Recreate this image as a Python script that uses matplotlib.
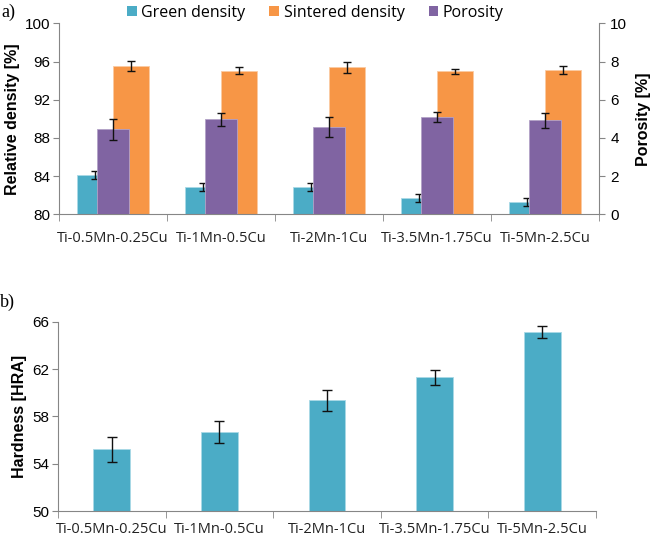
import matplotlib
matplotlib.use("Agg")
import matplotlib.pyplot as plt
import numpy as np
from matplotlib.patches import Patch

alloys = ["Ti-0.5Mn-0.25Cu", "Ti-1Mn-0.5Cu", "Ti-2Mn-1Cu", "Ti-3.5Mn-1.75Cu", "Ti-5Mn-2.5Cu"]

green_density = [84.1, 82.85, 82.85, 81.7, 81.3]
green_err = [0.4, 0.42, 0.4, 0.44, 0.44]
sintered_density = [95.55, 95.05, 95.4, 94.98, 95.12]
sintered_err = [0.5, 0.33, 0.55, 0.25, 0.38]
porosity = [4.45, 4.97, 4.57, 5.08, 4.92]
porosity_err = [0.54, 0.32, 0.53, 0.26, 0.41]

hardness = [55.2, 56.65, 59.35, 61.3, 65.1]
hardness_err = [1.04, 0.94, 0.86, 0.61, 0.52]

C_GREEN = "#4BACC6"
C_ORANGE = "#F79646"
C_PURPLE = "#8064A2"
C_AXIS = "#868686"

NUM_FONT = "Liberation Sans"
CAT_FONT = "Open Sans"

x = np.arange(len(alloys))


def style_x(ax, pad):
    ax.set_xlim(-0.5, len(alloys) - 0.5)
    ax.set_xticks(x)
    ax.set_xticklabels(alloys, fontsize=10.5, family=CAT_FONT, color="#222222")
    ax.set_xticks(np.arange(-0.5, len(alloys)), minor=True)
    ax.tick_params(axis="x", which="major", length=0, pad=pad)
    ax.tick_params(axis="x", which="minor", length=5, color=C_AXIS, direction="out")
    for s in ["top", "right"]:
        ax.spines[s].set_visible(False)
    for s in ["left", "bottom"]:
        ax.spines[s].set_color(C_AXIS)


fig = plt.figure(figsize=(6.53, 5.40), dpi=100)

# --- a) densities + porosity
ax1 = fig.add_axes([0.0904, 0.6031, 0.827, 0.3537])
w = 0.335
ax1.bar(x - w / 2, [v - 80 for v in green_density], w, bottom=80, color=C_GREEN,
        edgecolor="#a9d9e6", linewidth=0.6, zorder=2)
ax1.bar(x + w / 2, [v - 80 for v in sintered_density], w, bottom=80, color=C_ORANGE,
        edgecolor="#fbcaa2", linewidth=0.6, zorder=2)
ax1.errorbar(x - w / 2, green_density, yerr=green_err, fmt="none", ecolor="#111111",
             elinewidth=1, capsize=3, capthick=1, zorder=3)
ax1.errorbar(x + w / 2, sintered_density, yerr=sintered_err, fmt="none", ecolor="#111111",
             elinewidth=1, capsize=3, capthick=1, zorder=3)
ax1.set_ylim(80, 100)
ax1.set_yticks(np.arange(80, 101, 4))
ax1.set_ylabel("Relative density [%]", fontsize=11.5, fontweight="bold", family=NUM_FONT, labelpad=4)
style_x(ax1, 12)
ax1.tick_params(axis="y", length=4, color=C_AXIS, labelsize=11, pad=2)
for t in ax1.get_yticklabels():
    t.set_family(NUM_FONT)

ax2 = ax1.twinx()
ax2.bar(x, porosity, 0.29, color=C_PURPLE, edgecolor="#b3a2c7", linewidth=0.6, zorder=2)
ax2.errorbar(x, porosity, yerr=porosity_err, fmt="none", ecolor="#111111",
             elinewidth=1, capsize=3, capthick=1, zorder=3)
ax2.set_ylim(0, 10)
ax2.set_yticks(np.arange(0, 11, 2))
ax2.set_ylabel("Porosity [%]", fontsize=11.5, fontweight="bold", family=NUM_FONT, labelpad=6)
for s in ["top", "left", "bottom"]:
    ax2.spines[s].set_visible(False)
ax2.spines["right"].set_color(C_AXIS)
ax2.tick_params(axis="y", length=4, color=C_AXIS, labelsize=11, pad=4)
for t in ax2.get_yticklabels():
    t.set_family(NUM_FONT)

handles = [Patch(facecolor=C_GREEN), Patch(facecolor=C_ORANGE), Patch(facecolor=C_PURPLE)]
fig.legend(handles, ["Green density", "Sintered density", "Porosity"], loc="center",
           bbox_to_anchor=(0.483, 0.976), ncol=3, frameon=False, handlelength=0.6,
           handleheight=0.6, handletextpad=0.3, columnspacing=1.5,
           prop={"family": CAT_FONT, "size": 11.5})

fig.text(0.002, 0.978, "a)", fontsize=13, family="Liberation Serif", va="center")

# --- b) hardness
ax3 = fig.add_axes([0.0888, 0.0537, 0.824, 0.3506])
ax3.bar(x, [v - 50 for v in hardness], 0.34, bottom=50, color=C_GREEN,
        edgecolor="#a9d9e6", linewidth=0.6, zorder=2)
ax3.errorbar(x, hardness, yerr=hardness_err, fmt="none", ecolor="#111111",
             elinewidth=1, capsize=3.5, capthick=1, zorder=3)
ax3.set_ylim(50, 66)
ax3.set_yticks(np.arange(50, 67, 4))
ax3.set_ylabel("Hardness [HRA]", fontsize=11.5, fontweight="bold", family=NUM_FONT, labelpad=4)
style_x(ax3, 8)
ax3.tick_params(axis="y", length=4, color=C_AXIS, labelsize=11, pad=2)
for t in ax3.get_yticklabels():
    t.set_family(NUM_FONT)

fig.text(0.0, 0.44, "b)", fontsize=13, family="Liberation Serif", va="center")

fig.savefig("out.png", dpi=100)
